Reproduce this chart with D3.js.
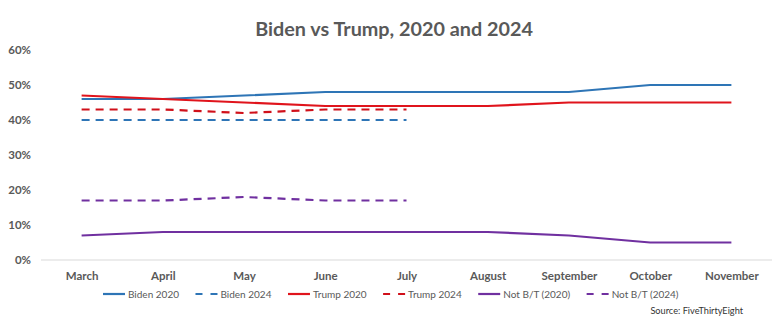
<!DOCTYPE html>
<html>
<head>
<meta charset="utf-8">
<script src="https://cdn.jsdelivr.net/npm/d3@7"></script>
<style>
  html, body { margin: 0; padding: 0; background: #fff; }
  svg { display: block; font-family: Lato, "Open Sans", sans-serif; }
</style>
</head>
<body>
<svg id="chart" width="779" height="326"></svg>
<script>
const months = ["March","April","May","June","July","August","September","October","November"];
const biden2020 = [46,46,47,48,48,48,48,50,50];
const trump2020 = [47,46,45,44,44,44,45,45,45];
const notBT2020 = [7,8,8,8,8,8,7,5,5];
const biden2024 = [40,40,40,40,40];
const trump2024 = [43,43,42,43,43];
const notBT2024 = [17,17,18,17,17];
const yTicks = [0,10,20,30,40,50,60];
const seriesNames = ["Biden 2020","Biden 2024","Trump 2020","Trump 2024","Not B/T (2020)","Not B/T (2024)"];

const series = [
  {name: seriesNames[0], values: biden2020, color: "#2E75B6", dashed: false},
  {name: seriesNames[1], values: biden2024, color: "#2E75B6", dashed: true},
  {name: seriesNames[2], values: trump2020, color: "#E0141C", dashed: false},
  {name: seriesNames[3], values: trump2024, color: "#D0101A", dashed: true},
  {name: seriesNames[4], values: notBT2020, color: "#7030A0", dashed: false},
  {name: seriesNames[5], values: notBT2024, color: "#7030A0", dashed: true}
];

const svg = d3.select("#chart");
const textColor = "#595959";

const x = d3.scalePoint().domain(months).range([41, 772]).padding(0.5);
const y = d3.scaleLinear().domain([0, 60]).range([260, 50]);

// Title
svg.append("text")
  .attr("x", 394).attr("y", 36)
  .attr("text-anchor", "middle")
  .attr("font-size", 19.8).attr("font-weight", "bold")
  .attr("fill", textColor)
  .text("Biden vs Trump, 2020 and 2024");

// Y axis labels
const yAxis = d3.axisLeft(y).tickValues(yTicks).tickFormat(d => d + "%").tickSize(0).tickPadding(0);
const yg = svg.append("g").attr("transform", "translate(31,0)").call(yAxis);
yg.select(".domain").remove();
yg.selectAll("text").attr("font-size", 11.5).attr("font-weight", "bold")
  .attr("fill", textColor).attr("font-family", "Lato, sans-serif");

// Baseline
svg.append("line")
  .attr("x1", 41).attr("x2", 772)
  .attr("y1", y(0)).attr("y2", y(0))
  .attr("stroke", "#D9D9D9").attr("stroke-width", 1);

// X axis labels
const xAxis = d3.axisBottom(x).tickSize(0).tickPadding(0);
const xg = svg.append("g").attr("transform", "translate(0,272)").call(xAxis);
xg.select(".domain").remove();
xg.selectAll("text").attr("font-size", 11.5).attr("font-weight", "bold")
  .attr("fill", textColor).attr("font-family", "Lato, sans-serif");

// Lines
const line = d3.line().x((d, i) => x(months[i])).y(d => y(d));
series.forEach(s => {
  svg.append("path")
    .datum(s.values)
    .attr("d", line)
    .attr("fill", "none")
    .attr("stroke", s.color)
    .attr("stroke-width", 2.2)
    .attr("stroke-dasharray", s.dashed ? "8,6" : null);
});

// Legend
let lx = 103;
const ly = 294;
series.forEach(s => {
  const g = svg.append("g");
  g.append("line")
    .attr("x1", lx).attr("x2", lx + 22)
    .attr("y1", ly).attr("y2", ly)
    .attr("stroke", s.color).attr("stroke-width", 2.2)
    .attr("stroke-dasharray", s.dashed ? "7,8" : null);
  const t = g.append("text")
    .attr("x", lx + 25).attr("y", ly + 3.6)
    .attr("font-size", 10).attr("fill", textColor)
    .text(s.name);
  lx += 25 + t.node().getComputedTextLength() + 16.5;
});

// Source
svg.append("text")
  .attr("x", 743).attr("y", 314)
  .attr("text-anchor", "end")
  .attr("font-size", 9.2).attr("fill", "#333")
  .text("Source: FiveThirtyEight");
</script>
</body>
</html>
